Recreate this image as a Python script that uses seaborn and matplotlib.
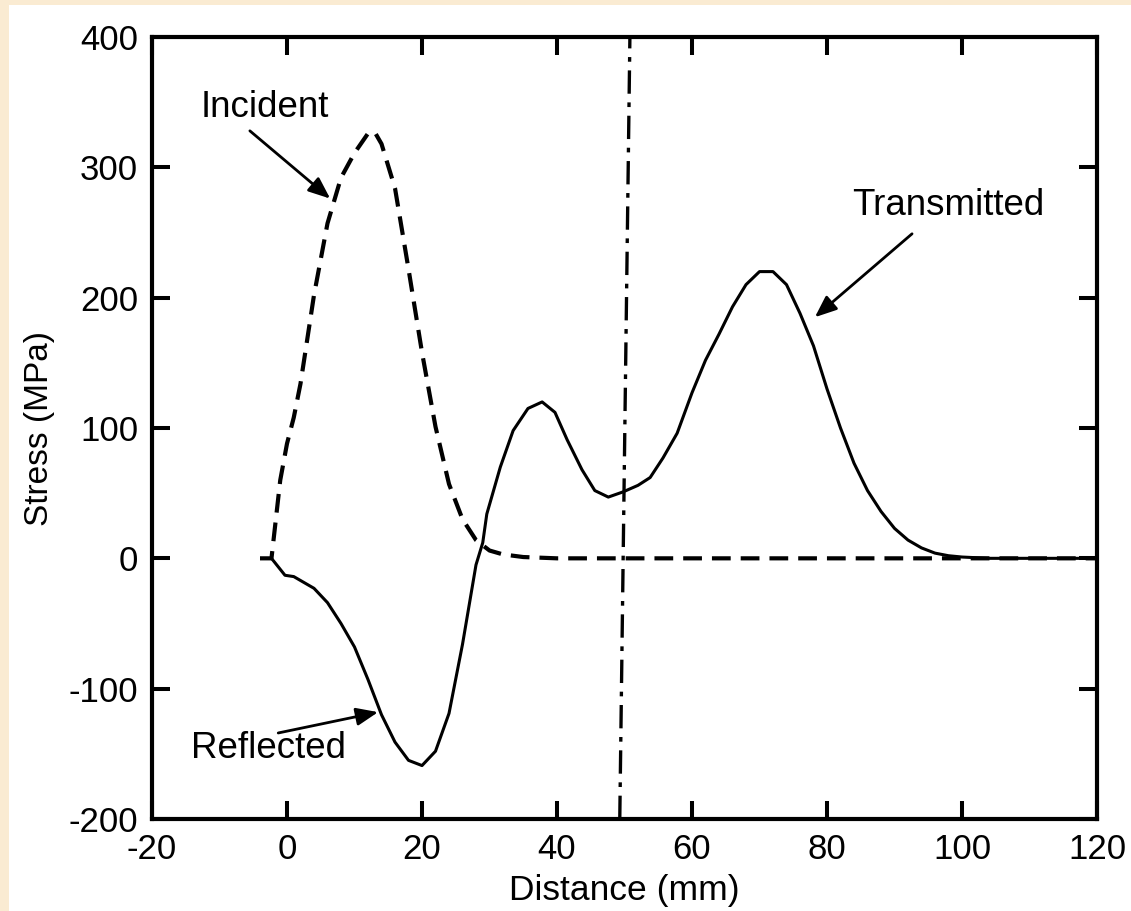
import matplotlib
matplotlib.use("Agg")
import matplotlib.pyplot as plt
import seaborn as sns
import pandas as pd
from matplotlib.patches import Rectangle

# ---- data ----
incident_x = [-4, -2.3, -1, 0, 1, 2, 3, 4, 6, 8, 10, 12, 13, 14, 16, 18, 20, 22,
              24, 26, 28, 30, 32, 35, 40, 120]
incident_y = [0, 0, 60, 88, 108, 134, 168, 202, 257, 292, 311, 326, 327, 318, 284,
              222, 158, 101, 57, 30, 14, 6, 3, 1, 0, 0]

wave_x = [-2.3, -0.3, 1, 2, 4, 6, 8, 10, 12, 14, 16, 18, 20, 22, 24, 26, 28, 29,
          29.6, 31.6, 33.5, 35.7, 37.8, 39.7, 41.5, 43.7, 45.6, 47.6, 49.8, 52,
          53.8, 55.7, 57.8, 60, 62, 64, 66, 68, 70, 72, 74, 76, 78, 80, 82, 84,
          86, 88, 90, 92, 94, 96, 98, 100, 104, 120]
wave_y = [0, -13, -14, -17, -23, -34, -50, -68, -93, -120, -141, -155, -159, -148,
          -119, -66, -5, 12, 34, 70, 98, 115, 120, 112, 91, 68, 52, 47, 51, 56,
          62, 77, 96, 127, 152, 172, 193, 210, 220, 220, 210, 188, 163, 130, 100,
          73, 52, 36, 23, 14, 8, 4, 2, 1, 0, 0]

interface_x = [49.3, 50.8]
interface_y = [-200, 400]

x_ticks = [-20, 0, 20, 40, 60, 80, 100, 120]
y_ticks = [-200, -100, 0, 100, 200, 300, 400]

labels = ["Incident", "Transmitted", "Reflected"]

# ---- figure ----
sns.set_theme(style="white")
plt.rcParams['font.family'] = ['Liberation Sans', 'DejaVu Sans']

W, H = 1131, 911
fig = plt.figure(figsize=(W / 100, H / 100), dpi=100, facecolor="#FAEBD2")
bg = Rectangle((9 / W, 0), 1 - 9 / W, 1 - 5 / H, transform=fig.transFigure,
               facecolor="white", edgecolor="none")
bg.set_zorder(-10)
fig.patches.append(bg)
ax = fig.add_axes([152 / W, 1 - 819 / H, (1097 - 152) / W, (819 - 37) / H])
ax.set_zorder(1)
ax.set_facecolor("white")

inc = pd.DataFrame({"x": incident_x, "y": incident_y})
wav = pd.DataFrame({"x": wave_x, "y": wave_y})
itf = pd.DataFrame({"x": interface_x, "y": interface_y})

sns.lineplot(data=inc, x="x", y="y", ax=ax, sort=False, estimator=None,
             color="black", lw=3.0, linestyle=(0, (4.5, 2.4)))
sns.lineplot(data=wav, x="x", y="y", ax=ax, sort=False, estimator=None,
             color="black", lw=2.2)
sns.lineplot(data=itf, x="x", y="y", ax=ax, sort=False, estimator=None,
             color="black", lw=2.4, linestyle=(0, (7.0, 2.6, 1.4, 2.6)))

ax.set_xlim(-20, 120)
ax.set_ylim(-200, 400)
ax.set_xticks(x_ticks)
ax.set_yticks(y_ticks)
ax.set_xticklabels([str(v) for v in x_ticks])
ax.set_yticklabels([str(v) for v in y_ticks])
ax.tick_params(axis="both", which="major", direction="in", length=13, width=2.9,
               labelsize=25, pad=10, color="black", labelcolor="black",
               top=True, right=True, bottom=True, left=True)
for s in ax.spines.values():
    s.set_visible(True)
    s.set_linewidth(3.0)
    s.set_color("black")

ax.set_xlabel("Distance (mm)", fontsize=25.5, color="black", labelpad=6)
ax.set_ylabel("Stress (MPa)", fontsize=24, color="black", labelpad=10)

arrow = dict(arrowstyle="-|>,head_length=1.1,head_width=0.45", color="black",
             lw=2.0, shrinkA=0, shrinkB=0)
ax.annotate("", xy=(6.4, 276), xytext=(-5.5, 328), arrowprops=arrow)
ax.text(-3.3, 346, labels[0], fontsize=26.5, ha="center", va="center", color="black")
ax.annotate("", xy=(78.2, 185), xytext=(92.6, 249), arrowprops=arrow)
ax.text(97.9, 271, labels[1], fontsize=26.5, ha="center", va="center", color="black")
ax.annotate("", xy=(13.5, -118), xytext=(-1.3, -134), arrowprops=arrow)
ax.text(-2.8, -146, labels[2], fontsize=26.5, ha="center", va="center", color="black")

fig.savefig("out.png", dpi=100, facecolor=fig.get_facecolor())
